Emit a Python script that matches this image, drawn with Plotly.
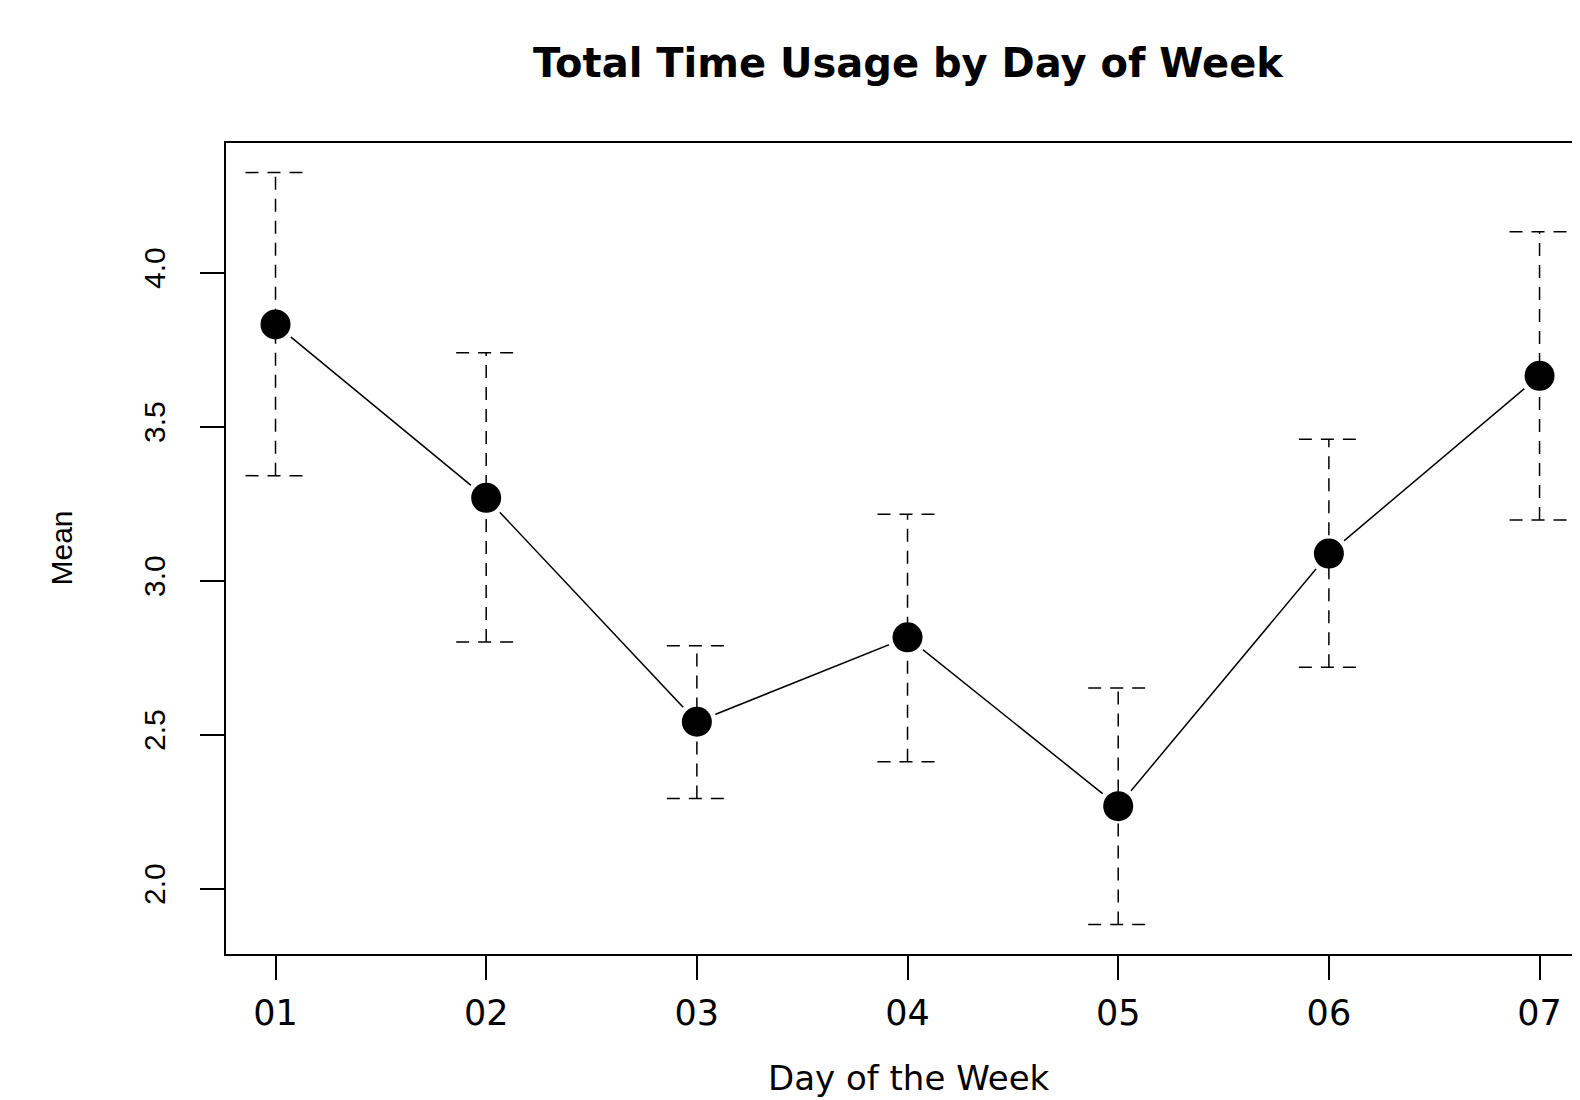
import plotly.graph_objects as go

days = ["01", "02", "03", "04", "05", "06", "07"]
means = [3.832, 3.269, 2.542, 2.816, 2.268, 3.088, 3.665]
upper = [4.325, 3.740, 2.789, 3.216, 2.652, 3.459, 4.133]
lower = [3.341, 2.801, 2.293, 2.412, 1.884, 2.719, 3.197]
y_ticks = [2.0, 2.5, 3.0, 3.5, 4.0]

pos = list(range(1, len(days) + 1))
cap_half = 0.1425

# error bar segments (vertical + caps)
ex, ey = [], []
for p, lo, hi in zip(pos, lower, upper):
    ex += [p, p, None, p - cap_half, p + cap_half, None, p - cap_half, p + cap_half, None]
    ey += [lo, hi, None, hi, hi, None, lo, lo, None]

fig = go.Figure()
fig.add_trace(go.Scatter(x=pos, y=means, mode="lines",
                         line=dict(color="black", width=1.5), hoverinfo="skip"))
fig.add_trace(go.Scatter(x=pos, y=means, mode="markers",
                         marker=dict(color="white", size=40, line=dict(width=0)), hoverinfo="skip"))
fig.add_trace(go.Scatter(x=pos, y=means, mode="markers",
                         marker=dict(color="black", size=30, line=dict(width=0))))
fig.add_trace(go.Scatter(x=ex, y=ey, mode="lines",
                         line=dict(color="black", width=1.5, dash="13px,9px"), hoverinfo="skip"))

# page body has an 8px margin: the figure is laid out at (8, 8)
W, H = 1572, 1092
fig.update_layout(
    width=W, height=H,
    margin=dict(l=218, r=0, t=135, b=146, autoexpand=False),
    paper_bgcolor="white", plot_bgcolor="white",
    showlegend=False,
    title=dict(text="<b>Total Time Usage by Day of Week</b>",
               font=dict(family="DejaVu Sans", size=40, color="black"),
               x=(908 - 8) / W, xref="container", xanchor="center",
               y=1 - (63 - 8) / H, yref="container", yanchor="middle"),
    xaxis=dict(range=[0.765, 7.192], tickvals=pos, ticktext=days,
               showgrid=False, zeroline=False,
               showline=True, linecolor="black", linewidth=2, mirror=True,
               ticks="outside", ticklen=24, tickwidth=1.5, tickcolor="black",
               tickfont=dict(family="DejaVu Sans", size=35, color="black"),
               ticklabelstandoff=3),
    yaxis=dict(range=[1.788, 4.421], tickvals=y_ticks,
               ticktext=[f"{v:.1f}" for v in y_ticks],
               showgrid=False, zeroline=False,
               showline=True, linecolor="black", linewidth=2, mirror=False,
               ticks="outside", ticklen=24, tickwidth=1.5, tickcolor="black",
               tickangle=-90,
               tickfont=dict(family="Liberation Sans", size=30, color="black"),
               ticklabelstandoff=23),
    annotations=[
        dict(text="Mean", textangle=-90, showarrow=False,
             xref="paper", yref="paper", x=0, y=0.5, xanchor="center", yanchor="middle",
             xshift=61 - 226, font=dict(family="Liberation Sans", size=30, color="black")),
        dict(text="Day of the Week", showarrow=False,
             xref="paper", yref="paper", x=(909 - 226) / 1354, y=0,
             xanchor="center", yanchor="top", yshift=-102,
             font=dict(family="DejaVu Sans", size=34, color="black")),
    ],
)

fig.write_html("out.html")
